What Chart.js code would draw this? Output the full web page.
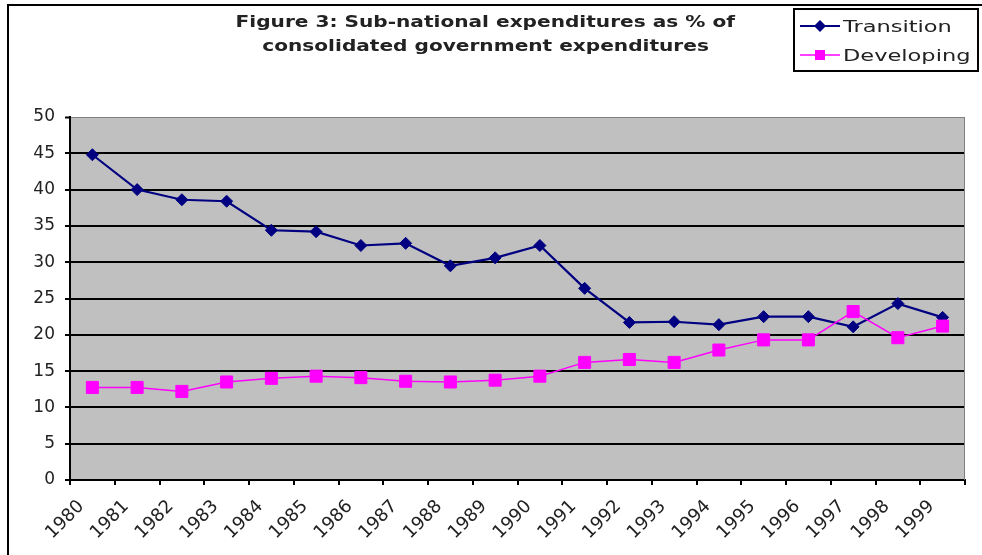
<!DOCTYPE html>
<html>
<head>
<meta charset="utf-8">
<script src="https://cdn.jsdelivr.net/npm/chart.js@4/dist/chart.umd.min.js"></script>
<style>
  html, body { margin: 0; padding: 0; background: #fff; }
  #wrap { position: relative; width: 982px; height: 555px; overflow: hidden; background: #fff; }
  #frame { position: absolute; left: 7px; top: 4px; width: 1100px; height: 700px; border: 2px solid #000; box-sizing: border-box; pointer-events: none; }
  #chart { position: absolute; left: 0; top: 0; }
  .tl { position: absolute; white-space: nowrap; font: bold 15px "DejaVu Sans", sans-serif; line-height: 24px; color: #222; transform-origin: center center; }
  #legend { position: absolute; left: 793px; top: 8px; width: 186px; height: 64px; border: 2px solid #000; box-sizing: border-box; background: #fff; }
  .item { position: absolute; left: 0; height: 24px; display: flex; align-items: center; }
  .item svg { margin-left: 5px; flex: none; }
  .item span { margin-left: 3px; font: 16px "DejaVu Sans", sans-serif; color: #222; white-space: nowrap; display: inline-block; transform-origin: left center; }
</style>
</head>
<body>
<div id="wrap">
  <canvas id="chart" width="982" height="555"></canvas>
  <div id="frame"></div>
  <div class="tl" id="t1">Figure 3: Sub-national expenditures as % of</div>
  <div class="tl" id="t2">consolidated government expenditures</div>
  <div id="legend"></div>
</div>
<script>
const years = ['1980','1981','1982','1983','1984','1985','1986','1987','1988','1989',
               '1990','1991','1992','1993','1994','1995','1996','1997','1998','1999'];
const transition = [44.8, 40.0, 38.6, 38.4, 34.4, 34.2, 32.3, 32.6, 29.5, 30.6,
                    32.3, 26.4, 21.7, 21.8, 21.4, 22.5, 22.5, 21.1, 24.3, 22.4];
const developing = [12.75, 12.75, 12.2, 13.5, 14.0, 14.3, 14.1, 13.6, 13.5, 13.75,
                    14.3, 16.2, 16.6, 16.2, 17.9, 19.3, 19.3, 23.2, 19.6, 21.2];
const seriesNames = ['Transition', 'Developing'];
const yTicks = [0, 5, 10, 15, 20, 25, 30, 35, 40, 45, 50];

const plotBg = {
  id: 'plotBg',
  beforeDraw(chart) {
    const {ctx, chartArea: a} = chart;
    ctx.save();
    ctx.fillStyle = '#c0c0c0';
    ctx.fillRect(a.left, a.top, a.right - a.left, a.bottom - a.top);
    ctx.restore();
  },
  beforeDatasetsDraw(chart) {
    const {ctx, chartArea: a} = chart;
    ctx.save();
    ctx.strokeStyle = '#808080';
    ctx.lineWidth = 1;
    ctx.beginPath();
    ctx.moveTo(a.right - 0.5, a.top);
    ctx.lineTo(a.right - 0.5, a.bottom);
    ctx.stroke();
    ctx.restore();
  }
};

const chart = new Chart(document.getElementById('chart'), {
  type: 'line',
  data: {
    labels: years,
    datasets: [
      {
        label: seriesNames[0], data: transition,
        borderColor: '#000080', backgroundColor: '#000080', borderWidth: 2.2,
        pointStyle: 'rectRot', pointRadius: 6, pointBorderWidth: 1,
        tension: 0, order: 1
      },
      {
        label: seriesNames[1], data: developing,
        borderColor: '#ff00ff', backgroundColor: '#ff00ff', borderWidth: 1.5,
        pointStyle: 'rect', pointRadius: 8.5, pointBorderWidth: 1,
        tension: 0, order: 0
      }
    ]
  },
  options: {
    responsive: false,
    animation: false,
    layout: { padding: { left: 0, right: 17, top: 117, bottom: 0 } },
    plugins: { legend: { display: false }, title: { display: false }, tooltip: { enabled: false } },
    scales: {
      x: {
        type: 'category', offset: true,
        grid: { offset: true, drawOnChartArea: false, drawTicks: true, tickLength: 5, color: '#000', lineWidth: 2 },
        border: { color: '#000', width: 2 },
        ticks: { autoSkip: false, minRotation: 45, maxRotation: 45, padding: 11, labelOffset: -11,
                 color: '#222', font: { family: 'DejaVu Sans', size: 18 } },
        afterFit(s) { s.height = 75; }
      },
      y: {
        min: 0, max: 50,
        afterBuildTicks(s) { s.ticks = yTicks.map(v => ({ value: v })); },
        grid: {
          color: c => (c.tick && c.tick.value === 50) ? '#808080' : '#000',
          lineWidth: c => (c.tick && c.tick.value === 50) ? 1 : 2,
          tickColor: '#000', tickWidth: 2, tickLength: 5, drawTicks: true
        },
        border: { color: '#000', width: 2 },
        ticks: { padding: 10, color: '#222', font: { family: 'DejaVu Sans', size: 17 } },
        afterFit(s) { s.width = 70; }
      }
    }
  },
  plugins: [plotBg]
});

// Title: two centred lines, stretched to the reference's wide lettering
const titleCenter = 485, titleWidth = 500;
const t1 = document.getElementById('t1'), t2 = document.getElementById('t2');
const sx = titleWidth / t1.offsetWidth;
[[t1, 10], [t2, 34]].forEach(([el, top]) => {
  el.style.top = top + 'px';
  el.style.left = (titleCenter - el.offsetWidth / 2) + 'px';
  el.style.transform = `scaleX(${sx})`;
});

// HTML legend built from the chart's datasets
const legendEl = document.getElementById('legend');
const spans = [];
[0, 1].forEach((i, row) => {
  const ds = chart.data.datasets[i];
  const div = document.createElement('div');
  div.className = 'item';
  div.style.top = (row === 0 ? 4 : 33) + 'px';
  const marker = ds.pointStyle === 'rectRot'
    ? `<polygon points="20,4 26,10 20,16 14,10" fill="${ds.backgroundColor}"/>`
    : `<rect x="15" y="5" width="10" height="10" fill="${ds.backgroundColor}"/>`;
  div.innerHTML = `<svg width="40" height="20"><line x1="0" y1="10" x2="40" y2="10" stroke="${ds.borderColor}" stroke-width="${ds.borderWidth}"/>${marker}</svg><span>${ds.label}</span>`;
  legendEl.appendChild(div);
  spans.push(div.querySelector('span'));
});
const lsx = 128 / spans[1].offsetWidth;
spans.forEach(s => { s.style.transform = `scaleX(${lsx})`; });
</script>
</body>
</html>
